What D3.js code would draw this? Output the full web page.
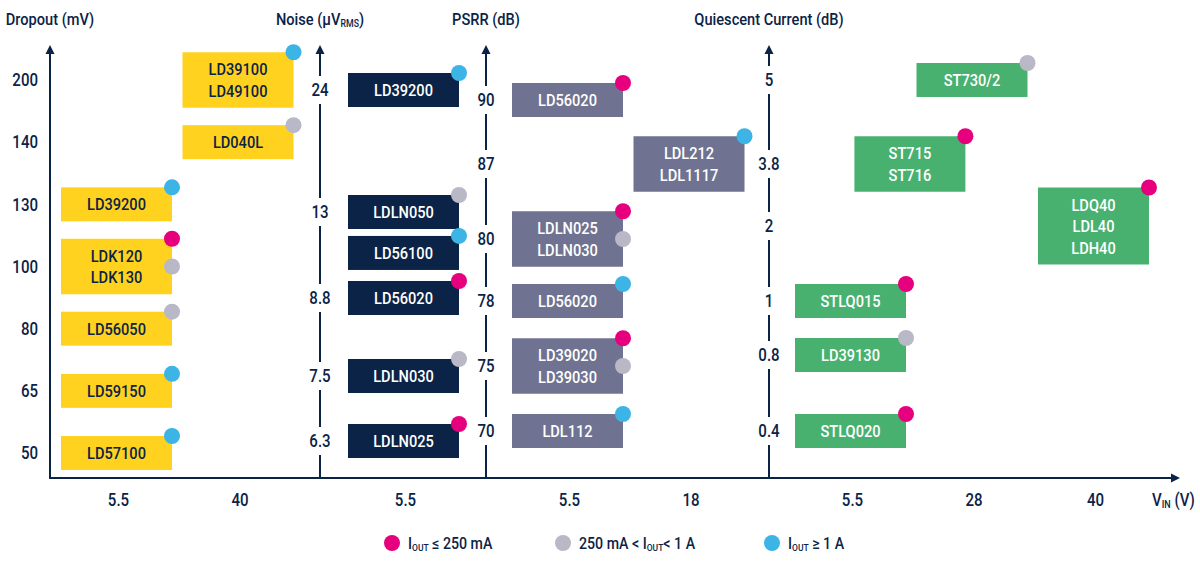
<!DOCTYPE html>
<html>
<head>
<meta charset="utf-8">
<script src="https://cdn.jsdelivr.net/npm/d3@7"></script>
<style>
  body { margin: 0; background: #fff; }
  svg { display: block; font-family: 'Roboto', 'Liberation Sans', sans-serif; font-weight: 500; }
</style>
</head>
<body>
<svg id="chart" width="1200" height="567"></svg>
<script>

// ---- data ----
// iout classes: low = Iout <= 250 mA, mid = 250 mA < Iout < 1 A, high = Iout >= 1 A
const dropoutTicks = [50, 65, 80, 100, 130, 140, 200];
const dropoutVin = [5.5, 40];
const dropoutParts = [
  {names: ['LD39100', 'LD49100'], value: 200, vin: 40, iout: ['high']},
  {names: ['LD040L'], value: 140, vin: 40, iout: ['mid']},
  {names: ['LD39200'], value: 130, vin: 5.5, iout: ['high']},
  {names: ['LDK120', 'LDK130'], value: 100, vin: 5.5, iout: ['low', 'mid']},
  {names: ['LD56050'], value: 80, vin: 5.5, iout: ['mid']},
  {names: ['LD59150'], value: 65, vin: 5.5, iout: ['high']},
  {names: ['LD57100'], value: 50, vin: 5.5, iout: ['high']}
];

const noiseTicks = [6.3, 7.5, 8.8, 13, 24];
const noiseVin = [5.5];
const noiseParts = [
  {names: ['LD39200'], value: 24, vin: 5.5, iout: ['high']},
  {names: ['LDLN050'], value: 13, vin: 5.5, iout: ['mid']},
  {names: ['LD56100'], value: 11, vin: 5.5, iout: ['high']},
  {names: ['LD56020'], value: 8.8, vin: 5.5, iout: ['low']},
  {names: ['LDLN030'], value: 7.5, vin: 5.5, iout: ['mid']},
  {names: ['LDLN025'], value: 6.3, vin: 5.5, iout: ['low']}
];

const psrrTicks = [70, 75, 78, 80, 87, 90];
const psrrVin = [5.5, 18];
const psrrParts = [
  {names: ['LD56020'], value: 90, vin: 5.5, iout: ['low']},
  {names: ['LDL212', 'LDL1117'], value: 87, vin: 18, iout: ['high']},
  {names: ['LDLN025', 'LDLN030'], value: 80, vin: 5.5, iout: ['low', 'mid']},
  {names: ['LD56020'], value: 78, vin: 5.5, iout: ['high']},
  {names: ['LD39020', 'LD39030'], value: 75, vin: 5.5, iout: ['low', 'mid']},
  {names: ['LDL112'], value: 70, vin: 5.5, iout: ['high']}
];

const iqTicks = [0.4, 0.8, 1, 2, 3.8, 5];
const iqVin = [5.5, 28, 40];
const iqParts = [
  {names: ['ST730/2'], value: 5, vin: 28, iout: ['mid']},
  {names: ['ST715', 'ST716'], value: 3.8, vin: 16.5, iout: ['low']},
  {names: ['LDQ40', 'LDL40', 'LDH40'], value: 2, vin: 40, iout: ['low']},
  {names: ['STLQ015'], value: 1, vin: 5.5, iout: ['low']},
  {names: ['LD39130'], value: 0.8, vin: 5.5, iout: ['mid']},
  {names: ['STLQ020'], value: 0.4, vin: 5.5, iout: ['low']}
];

const ioutClasses = ['low', 'mid', 'high'];
const ioutLabels = [
  [['I', false], ['OUT', true], [' \u2264 250 mA', false]],
  [['250 mA < I', false], ['OUT', true], ['< 1 A', false]],
  [['I', false], ['OUT', true], [' \u2265 1 A', false]]
];

// ---- layout ----
const ink = '#0b2346';
const squeeze = 0.86;  // no condensed face installed, narrow the glyphs instead
const bottomY = 478, topY = 45;
const boxW = 111, boxH = 34, lineH = 21.5, colStep = 121.5;
const dotColor = d3.scaleOrdinal().domain(ioutClasses).range(['#e6007e', '#b8b8c6', '#3cb4e6']);

const panels = [
  {title: [['Dropout (mV)', false]], axisX: 50, ticks: dropoutTicks, vin: dropoutVin, parts: dropoutParts,
   y: d3.scalePoint().domain(dropoutTicks).range([453, 80]), col0: 116.5,
   fill: '#ffd21f', textFill: ink, side: 'left'},
  {title: [['Noise (\u03bcV', false], ['RMS', true], [')', false]], axisX: 320, ticks: noiseTicks, vin: noiseVin, parts: noiseParts,
   y: d3.scaleLinear().domain(noiseTicks).range([441, 376, 298, 212, 90]), col0: 403.5,
   fill: '#0b2346', textFill: '#fff', side: 'on'},
  {title: [['PSRR (dB)', false]], axisX: 486, ticks: psrrTicks, vin: psrrVin, parts: psrrParts,
   y: d3.scaleLinear().domain(psrrTicks).range([431, 366, 301, 239, 164, 100]), col0: 567.5,
   fill: '#6f7391', textFill: '#fff', side: 'on'},
  {title: [['Quiescent Current (dB)', false]], axisX: 769, ticks: iqTicks, vin: iqVin, parts: iqParts,
   y: d3.scaleLinear().domain(iqTicks).range([431, 355, 301, 226, 164, 80]), col0: 850.5,
   fill: '#49b170', textFill: '#fff', side: 'on'}
];

const svg = d3.select('#chart');


function label(parent, x, y) {
  return parent.append('text')
    .attr('transform', `translate(${x},${y}) scale(${squeeze},1)`);
}


function richText(sel, parts, size) {
  parts.forEach(([t, sub]) => {
    sel.append('tspan')
      .attr('font-size', sub ? size * 0.6 : size)
      .attr('baseline-shift', sub ? '-25%' : null)
      .text(t);
  });
}


function arrowUp(g, x) {
  g.append('path')
    .attr('d', `M${x - 4.5},${topY + 9} L${x},${topY} L${x + 4.5},${topY + 9} Z`)
    .attr('fill', ink);
}


function drawPanel(p) {
  const g = svg.append('g').attr('class', 'panel');
  const x = d3.scaleLinear()
    .domain(p.vin.length > 1 ? p.vin : [p.vin[0], p.vin[0] + 1])
    .range(p.vin.length > 1 ? p.vin.map((_, i) => p.col0 + i * colStep) : [p.col0, p.col0 + colStep]);

  // axis
  g.append('line')
    .attr('x1', p.axisX).attr('x2', p.axisX)
    .attr('y1', bottomY + 1).attr('y2', topY + 6)
    .attr('stroke', ink).attr('stroke-width', 2);
  arrowUp(g, p.axisX);

  label(g, p.axisX, 25)
    .attr('text-anchor', 'middle')
    .attr('fill', ink)
    .call(richText, p.title, 17);

  // tick labels
  const ticks = g.selectAll('.tick')
    .data(p.ticks)
    .join('g')
      .attr('class', 'tick')
      .attr('transform', d => `translate(${p.axisX},${p.y(d)})`);
  if (p.side !== 'left') {
    ticks.append('rect')
      .attr('x', -14).attr('y', -14)
      .attr('width', 28).attr('height', 28)
      .attr('fill', '#fff');
  }
  ticks.each(function (d) {
    label(d3.select(this), p.side === 'left' ? -12 : 0, 0)
      .attr('dy', '0.36em')
      .attr('text-anchor', p.side === 'left' ? 'end' : 'middle')
      .attr('font-size', 17.5)
      .attr('fill', ink)
      .text(d);
  });

  // product boxes
  const boxes = g.selectAll('.part')
    .data(p.parts)
    .join('g')
      .attr('class', 'part')
      .attr('transform', d => `translate(${x(d.vin)},${p.y(d.value)})`);
  boxes.append('rect')
    .attr('x', -boxW / 2)
    .attr('y', d => -(boxH + (d.names.length - 1) * lineH) / 2)
    .attr('width', boxW)
    .attr('height', d => boxH + (d.names.length - 1) * lineH)
    .attr('fill', p.fill);
  boxes.each(function (d) {
    const b = d3.select(this);
    const n = d.names.length;
    d.names.forEach((name, i) => {
      label(b, 0, (i - (n - 1) / 2) * lineH)
        .attr('dy', '0.36em')
        .attr('text-anchor', 'middle')
        .attr('font-size', 17)
        .attr('fill', p.textFill)
        .text(name);
    });
    const top = -(boxH + (n - 1) * lineH) / 2;
    d.iout.forEach((c, i) => {
      b.append('circle')
        .attr('cx', boxW / 2)
        .attr('cy', i === 0 ? top : 0)
        .attr('r', 8)
        .attr('fill', dotColor(c));
    });
  });

  // V_IN labels
  p.vin.forEach(v => {
    label(g, x(v) + 2, 506)
      .attr('text-anchor', 'middle')
      .attr('font-size', 17.5)
      .attr('fill', ink)
      .text(v);
  });
}


panels.forEach(drawPanel);

// horizontal axis
svg.append('line')
  .attr('x1', 49).attr('x2', 1172)
  .attr('y1', bottomY).attr('y2', bottomY)
  .attr('stroke', ink).attr('stroke-width', 2);
svg.append('path')
  .attr('d', `M1171,${bottomY - 4.5} L1180,${bottomY} L1171,${bottomY + 4.5} Z`)
  .attr('fill', ink);
label(svg, 1152, 506)
  .attr('fill', ink)
  .call(richText, [['V', false], ['IN', true], [' (V)', false]], 17.5);

// legend
const legendX = [392, 563, 772];
const legend = svg.selectAll('.legend')
  .data(ioutClasses)
  .join('g')
    .attr('class', 'legend')
    .attr('transform', (d, i) => `translate(${legendX[i]},543)`);
legend.append('circle')
  .attr('r', 8)
  .attr('fill', d => dotColor(d));
legend.each(function (d, i) {
  label(d3.select(this), 16, 0)
    .attr('dy', '0.36em')
    .attr('fill', ink)
    .call(richText, ioutLabels[i], 16.5);
});

</script>
</body>
</html>
